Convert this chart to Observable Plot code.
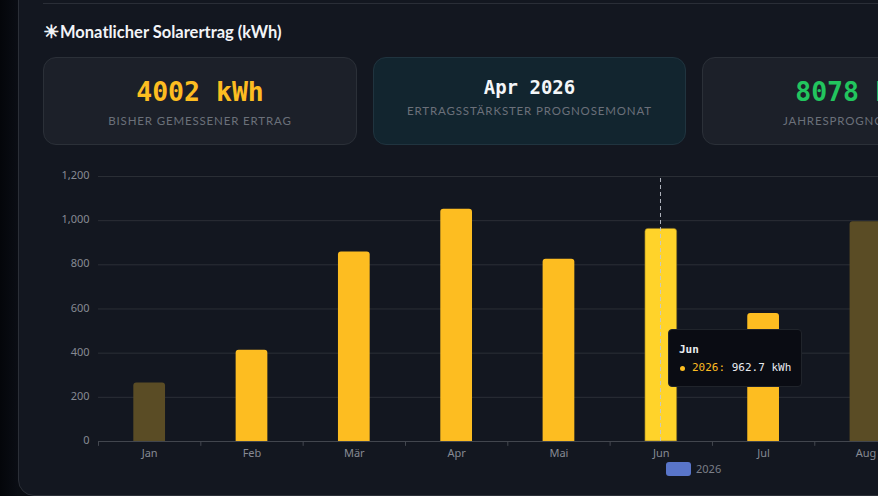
<!DOCTYPE html>
<html lang="de">
<head>
<meta charset="utf-8">
<script src="https://cdn.jsdelivr.net/npm/d3@7"></script>
<script src="https://cdn.jsdelivr.net/npm/@observablehq/plot@0.6"></script>
<style>
html,body{margin:0;padding:0;width:878px;height:496px;overflow:hidden;background:#0a0d13;}
body{position:relative;font-family:Lato,"Noto Sans",sans-serif;}
#edge{position:absolute;left:0;top:0;width:18px;height:496px;background:linear-gradient(90deg,#04060a,#0a0d14);}
#panel{position:absolute;left:18px;top:-40px;width:1100px;height:536px;box-sizing:border-box;background:#131720;border:1px solid #2b2f37;border-radius:16px;}
#rule{position:absolute;left:43px;top:3px;width:860px;height:1px;background:#2a2e37;}
#title{position:absolute;left:43px;top:22px;font-size:16.5px;font-weight:700;color:#f2f4f7;white-space:nowrap;line-height:20px;}
#title .sun{font-family:"DejaVu Sans";font-size:18px;display:inline-block;width:17px;-webkit-text-stroke:.7px #f2f4f7;}
.card{position:absolute;top:57px;height:88px;width:314px;box-sizing:border-box;background:#1c2029;border:1px solid #2b3038;border-radius:13px;text-align:center;overflow:hidden;}
.card.hi{background:#12252f;border-color:#20343f;width:313px;}
.val{position:absolute;left:0;right:0;font-family:"DejaVu Sans Mono",monospace;font-weight:700;white-space:nowrap;}
.lab{position:absolute;left:0;right:0;font-size:11.5px;letter-spacing:.85px;color:#6b707a;white-space:nowrap;line-height:14px;}
#chart{position:absolute;left:0;top:160px;}
#chart svg{display:block;overflow:visible;background:transparent;max-width:none;}
#tip{position:absolute;left:668px;top:329px;width:134px;height:58px;box-sizing:border-box;background:#0a0c13;border:1px solid #20242b;border-radius:4px;font-family:"DejaVu Sans Mono",monospace;font-size:11px;color:#e8eaee;}
#tip .h{position:absolute;left:10px;top:13px;line-height:14px;font-weight:700;}
#tip .r{position:absolute;left:23px;top:31px;line-height:14px;white-space:nowrap;}
#tip .k{color:#fdbd21;}
#tip .d{position:absolute;left:11px;top:36px;width:5px;height:5px;border-radius:50%;background:#fdbd21;}
#leg{position:absolute;left:666px;top:462px;width:25px;height:14px;border-radius:3px;background:#5975c9;}
#legt{position:absolute;left:696px;top:461px;font-family:"Noto Sans",sans-serif;font-size:11px;line-height:15px;color:#7b7f88;}
</style>
</head>
<body>
<div id="edge"></div>
<div id="panel"></div>
<div id="rule"></div>
<div id="title"><span class="sun">☀</span>Monatlicher Solarertrag (kWh)</div>
<div class="card" style="left:43px">
  <div class="val" style="top:18px;font-size:26.5px;line-height:32px;color:#fdbd21">4002 kWh</div>
  <div class="lab" style="top:56px">BISHER GEMESSENER ERTRAG</div>
</div>
<div class="card hi" style="left:373px">
  <div class="val" style="top:16px;font-size:19px;line-height:26px;color:#f4f6f8">Apr 2026</div>
  <div class="lab" style="top:46px">ERTRAGSSTÄRKSTER PROGNOSEMONAT</div>
</div>
<div class="card" style="left:702px">
  <div class="val" style="top:18px;font-size:26.5px;line-height:32px;color:#22c55e">8078 kWh</div>
  <div class="lab" style="top:56px;left:80px;text-align:left">JAHRESPROGNOSE</div>
</div>
<div id="chart"></div>
<div id="tip">
  <div class="h">Jun</div>
  <div class="d"></div>
  <div class="r"><span class="k">2026:</span> 962.7 kWh</div>
</div>
<div id="leg"></div>
<div id="legt">2026</div>
<script>
const months = ["Jan","Feb","Mär","Apr","Mai","Jun","Jul","Aug"];
const values = [265,413,858,1052,825,962.7,580,995];
const kinds  = ["low","full","full","full","full","active","full","low"];
const yTicks = [0,200,400,600,800,1000,1200];
const colors = {low:"#5a4c25",full:"#fdbd21",active:"#ffd32a"};
const rows = months.map((m,i)=>({month:m,value:values[i],kind:kinds[i]}));
const step = 102.33;
const plot = Plot.plot({
  width: 98 + step*months.length,
  height: 310,
  marginLeft: 98, marginRight: 0, marginTop: 16, marginBottom: 29,
  style:{background:"transparent",overflow:"visible",maxWidth:"none"},
  x:{domain:months,paddingInner:0.69,paddingOuter:0.345,align:0.5,round:false,label:null},
  y:{domain:[0,1200],label:null},
  marks:[
    Plot.ruleY(yTicks.slice(1),{stroke:"#2b2f36",strokeWidth:1,strokeOpacity:1}),
    Plot.barY(rows,{x:"month",y:"value",fill:d=>colors[d.kind],ry1:3,
      stroke:d=>d.kind==="active"?"#8d7624":"none",strokeWidth:.6}),
    Plot.ruleX(["Jun"],{y1:0,y2:1200,dx:-0.8,stroke:"#c3c7d0",strokeWidth:1,strokeDasharray:"4 3",strokeOpacity:.9}),
    Plot.ruleY([0],{stroke:"#43474f",strokeWidth:1}),
    Plot.ruleX(months,{y1:0,y2:-22,dx:-step/2,stroke:"#43474f",strokeWidth:1}),
    Plot.axisY({ticks:yTicks,tickSize:0,tickPadding:9,dy:-1,tickFormat:d3.format(","),fill:"#868a93",fontSize:11,fontFamily:"Noto Sans",label:null}),
    Plot.axisX({tickSize:0,tickPadding:8,fill:"#868a93",fontSize:11,fontFamily:"Noto Sans",label:null})
  ]
});
document.getElementById("chart").appendChild(plot);
</script>
</body>
</html>
